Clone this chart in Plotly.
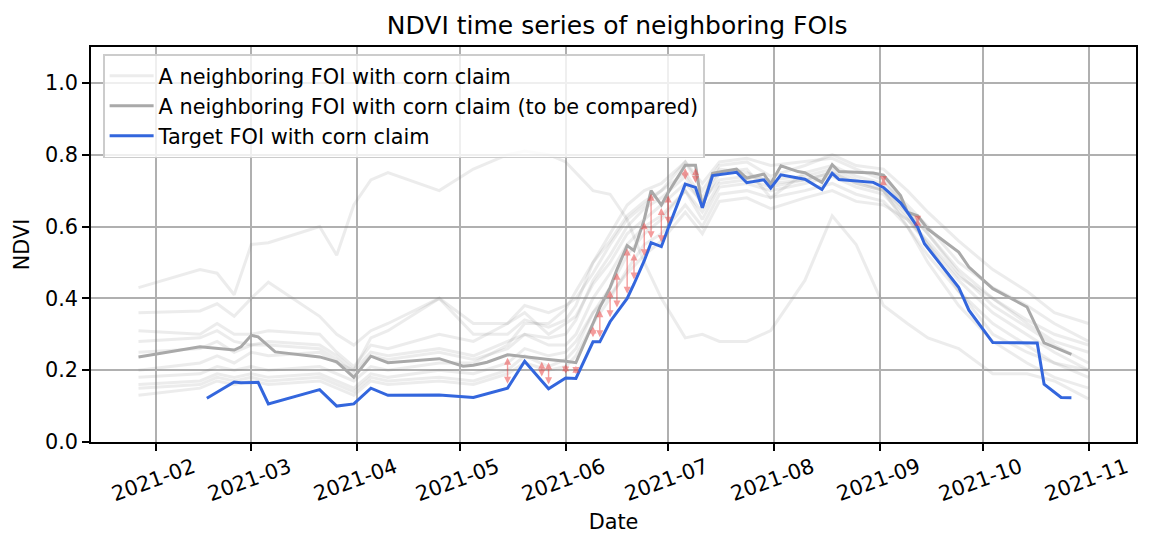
import plotly.graph_objects as go
import pandas as pd

# ---------------- data ----------------
target_dates = ["2021-02-16", "2021-02-24", "2021-02-26", "2021-03-03", "2021-03-06", "2021-03-21",
                "2021-03-26", "2021-03-31", "2021-04-05", "2021-04-10", "2021-04-25", "2021-05-05",
                "2021-05-15", "2021-05-20", "2021-05-25", "2021-05-27", "2021-06-01", "2021-06-04",
                "2021-06-09", "2021-06-11", "2021-06-14", "2021-06-16", "2021-06-19", "2021-06-21",
                "2021-06-24", "2021-06-26", "2021-06-29", "2021-07-01", "2021-07-06", "2021-07-09",
                "2021-07-11", "2021-07-14", "2021-07-16", "2021-07-21", "2021-07-24", "2021-07-29",
                "2021-07-31", "2021-08-03", "2021-08-08", "2021-08-10", "2021-08-15", "2021-08-18",
                "2021-08-20", "2021-08-25", "2021-08-30", "2021-09-02", "2021-09-07", "2021-09-09",
                "2021-09-12", "2021-09-14", "2021-09-24", "2021-09-27", "2021-10-04", "2021-10-17",
                "2021-10-19", "2021-10-24", "2021-10-27"]
target_ndvi = [0.122, 0.167, 0.165, 0.166, 0.106, 0.146,
               0.100, 0.106, 0.150, 0.130, 0.131, 0.124,
               0.150, 0.225, 0.170, 0.148, 0.178, 0.177,
               0.279, 0.279, 0.335, 0.362, 0.400, 0.440,
               0.505, 0.555, 0.544, 0.595, 0.718, 0.709,
               0.652, 0.742, 0.745, 0.751, 0.722, 0.730,
               0.707, 0.744, 0.735, 0.732, 0.703, 0.748,
               0.731, 0.727, 0.723, 0.709, 0.666, 0.640,
               0.598, 0.552, 0.431, 0.367, 0.277, 0.276,
               0.161, 0.124, 0.123]

compare_dates = ["2021-01-27", "2021-02-14", "2021-02-24", "2021-02-26", "2021-03-01", "2021-03-03",
                 "2021-03-08", "2021-03-21", "2021-03-26", "2021-03-31", "2021-04-05", "2021-04-10",
                 "2021-04-25", "2021-05-02", "2021-05-05", "2021-05-09", "2021-05-15", "2021-05-20",
                 "2021-05-25", "2021-05-27", "2021-06-01", "2021-06-04", "2021-06-09", "2021-06-11",
                 "2021-06-14", "2021-06-16", "2021-06-19", "2021-06-21", "2021-06-24", "2021-06-26",
                 "2021-06-29", "2021-07-01", "2021-07-06", "2021-07-09", "2021-07-11", "2021-07-14",
                 "2021-07-16", "2021-07-21", "2021-07-24", "2021-07-29", "2021-07-31", "2021-08-03",
                 "2021-08-08", "2021-08-10", "2021-08-15", "2021-08-18", "2021-08-20", "2021-08-25",
                 "2021-08-30", "2021-09-02", "2021-09-07", "2021-09-09", "2021-09-12", "2021-09-15",
                 "2021-09-24", "2021-09-27", "2021-10-04", "2021-10-14", "2021-10-19", "2021-10-27"]
compare_ndvi = [0.237, 0.265, 0.256, 0.265, 0.297, 0.293,
                0.251, 0.237, 0.223, 0.180, 0.239, 0.221,
                0.232, 0.211, 0.214, 0.222, 0.243, 0.237,
                0.232, 0.230, 0.225, 0.221, 0.330, 0.375,
                0.430, 0.480, 0.547, 0.533, 0.620, 0.700,
                0.660, 0.695, 0.771, 0.771, 0.652, 0.748,
                0.752, 0.760, 0.735, 0.746, 0.719, 0.769,
                0.753, 0.750, 0.723, 0.772, 0.753, 0.751,
                0.749, 0.743, 0.686, 0.640, 0.630, 0.593,
                0.529, 0.487, 0.427, 0.376, 0.276, 0.244]

neighbor_dates = ["2021-01-27", "2021-02-14", "2021-02-19", "2021-02-24", "2021-03-01", "2021-03-06",
                  "2021-03-21", "2021-03-26", "2021-03-31", "2021-04-05", "2021-04-10", "2021-04-25",
                  "2021-05-05", "2021-05-15", "2021-05-20", "2021-05-27", "2021-06-01", "2021-06-04",
                  "2021-06-09", "2021-06-14", "2021-06-19", "2021-06-24", "2021-06-29", "2021-07-06",
                  "2021-07-11", "2021-07-16", "2021-07-24", "2021-07-31", "2021-08-10", "2021-08-18",
                  "2021-08-25", "2021-09-02", "2021-09-09", "2021-09-15", "2021-09-24", "2021-10-04",
                  "2021-10-14", "2021-10-22", "2021-11-01"]
neighbor_1 = [0.43, 0.48, 0.47, 0.41, 0.55, 0.555, 0.60, 0.52, 0.66, 0.73, 0.75, 0.70, 0.76, 0.80, 0.81,
              0.80, 0.78, 0.75, 0.70, 0.69, 0.62, 0.50, 0.40, 0.29, 0.30, 0.28, 0.28, 0.31, 0.45, 0.63,
              0.55, 0.38, 0.33, 0.29, 0.26, 0.19, 0.19, 0.17, 0.12]
neighbor_2 = [0.36, 0.365, 0.385, 0.35, 0.40, 0.445, 0.35, 0.30, 0.27, 0.31, 0.33, 0.40, 0.33, 0.33, 0.38,
              0.36, 0.38, 0.40, 0.47, 0.55, 0.62, 0.66, 0.70, 0.78, 0.70, 0.77, 0.78, 0.74, 0.77, 0.80,
              0.77, 0.76, 0.70, 0.64, 0.56, 0.48, 0.42, 0.36, 0.33]
neighbor_3 = [0.31, 0.30, 0.33, 0.30, 0.30, 0.31, 0.30, 0.25, 0.21, 0.27, 0.26, 0.30, 0.28, 0.33, 0.36,
              0.30, 0.33, 0.35, 0.44, 0.50, 0.58, 0.62, 0.66, 0.72, 0.67, 0.73, 0.74, 0.73, 0.74, 0.76,
              0.73, 0.70, 0.64, 0.58, 0.48, 0.40, 0.33, 0.28, 0.25]
neighbor_4 = [0.28, 0.29, 0.31, 0.28, 0.27, 0.28, 0.27, 0.24, 0.20, 0.25, 0.24, 0.26, 0.24, 0.28, 0.30,
              0.27, 0.27, 0.30, 0.40, 0.47, 0.55, 0.60, 0.63, 0.70, 0.62, 0.71, 0.72, 0.70, 0.72, 0.74,
              0.71, 0.69, 0.62, 0.55, 0.45, 0.36, 0.30, 0.25, 0.20]
neighbor_5 = [0.15, 0.16, 0.18, 0.17, 0.18, 0.17, 0.18, 0.16, 0.14, 0.18, 0.17, 0.18, 0.17, 0.20, 0.24,
              0.21, 0.23, 0.26, 0.36, 0.43, 0.52, 0.58, 0.62, 0.70, 0.64, 0.72, 0.73, 0.71, 0.73, 0.75,
              0.72, 0.70, 0.63, 0.55, 0.42, 0.33, 0.27, 0.22, 0.18]
neighbor_6 = [0.13, 0.15, 0.17, 0.16, 0.17, 0.16, 0.17, 0.15, 0.13, 0.17, 0.16, 0.17, 0.16, 0.19, 0.22,
              0.20, 0.21, 0.24, 0.33, 0.40, 0.48, 0.55, 0.58, 0.66, 0.60, 0.69, 0.70, 0.68, 0.70, 0.72,
              0.69, 0.67, 0.60, 0.50, 0.38, 0.28, 0.22, 0.18, 0.15]
neighbor_7 = [0.25, 0.26, 0.28, 0.25, 0.27, 0.27, 0.26, 0.23, 0.19, 0.24, 0.23, 0.25, 0.23, 0.26, 0.30,
              0.29, 0.30, 0.34, 0.45, 0.52, 0.60, 0.65, 0.68, 0.74, 0.66, 0.75, 0.76, 0.68, 0.75, 0.77,
              0.74, 0.72, 0.66, 0.60, 0.50, 0.43, 0.38, 0.33, 0.28]
neighbor_8 = [0.20, 0.22, 0.24, 0.22, 0.25, 0.24, 0.25, 0.22, 0.20, 0.29, 0.31, 0.40, 0.30, 0.30, 0.34,
              0.32, 0.34, 0.38, 0.50, 0.56, 0.63, 0.67, 0.70, 0.75, 0.68, 0.76, 0.75, 0.72, 0.73, 0.75,
              0.72, 0.70, 0.60, 0.52, 0.42, 0.30, 0.25, 0.22, 0.20]
neighbor_9 = [0.18, 0.19, 0.21, 0.20, 0.21, 0.20, 0.21, 0.19, 0.17, 0.21, 0.20, 0.22, 0.22, 0.27, 0.33,
              0.33, 0.37, 0.42, 0.50, 0.58, 0.66, 0.70, 0.72, 0.78, 0.72, 0.78, 0.79, 0.77, 0.78, 0.79,
              0.76, 0.73, 0.65, 0.58, 0.47, 0.38, 0.32, 0.27, 0.22]
neighbor_10 = [0.16, 0.17, 0.19, 0.18, 0.19, 0.18, 0.19, 0.17, 0.15, 0.19, 0.18, 0.20, 0.19, 0.22, 0.26,
               0.24, 0.25, 0.28, 0.36, 0.41, 0.47, 0.52, 0.56, 0.64, 0.58, 0.67, 0.68, 0.65, 0.68, 0.70,
               0.67, 0.66, 0.62, 0.56, 0.46, 0.40, 0.34, 0.30, 0.27]
neighbors = [neighbor_1, neighbor_2, neighbor_3, neighbor_4, neighbor_5,
             neighbor_6, neighbor_7, neighbor_8, neighbor_9, neighbor_10]

arrow_dates = ["2021-05-15", "2021-05-20", "2021-05-25", "2021-05-27", "2021-06-01", "2021-06-04",
               "2021-06-09", "2021-06-11", "2021-06-14", "2021-06-16", "2021-06-19", "2021-06-21",
               "2021-06-24", "2021-06-26", "2021-06-29", "2021-07-01", "2021-07-06", "2021-07-09",
               "2021-07-11", "2021-07-14", "2021-07-16", "2021-07-21", "2021-07-24", "2021-07-29",
               "2021-07-31", "2021-08-03", "2021-08-08", "2021-08-10", "2021-08-15", "2021-08-18",
               "2021-08-20", "2021-08-25", "2021-08-30", "2021-09-02", "2021-09-07", "2021-09-09",
               "2021-09-12"]

month_ticks = ["2021-02-01", "2021-03-01", "2021-04-01", "2021-05-01", "2021-06-01",
               "2021-07-01", "2021-08-01", "2021-09-01", "2021-10-01", "2021-11-01"]
month_labels = ["2021-02", "2021-03", "2021-04", "2021-05", "2021-06",
                "2021-07", "2021-08", "2021-09", "2021-10", "2021-11"]
y_ticks = [0.0, 0.2, 0.4, 0.6, 0.8, 1.0]

# ---------------- figure ----------------
FONT = "DejaVu Sans"
FS = 20.8
fig = go.Figure()

for i, vals in enumerate(neighbors):
    fig.add_trace(go.Scatter(
        x=neighbor_dates, y=vals, mode="lines",
        line=dict(color="rgba(128,128,128,0.15)", width=3),
        name="A neighboring FOI with corn claim",
        showlegend=(i == 0), hoverinfo="skip"))

fig.add_trace(go.Scatter(
    x=compare_dates, y=compare_ndvi, mode="lines",
    line=dict(color="#a9a9a9", width=3),
    name="A neighboring FOI with corn claim (to be compared)"))

fig.add_trace(go.Scatter(
    x=target_dates, y=target_ndvi, mode="lines",
    line=dict(color="#3366dd", width=3),
    name="Target FOI with corn claim"))

# arrows between target and compared series at matched dates
t_map = dict(zip(target_dates, target_ndvi))
c_map = dict(zip(compare_dates, compare_ndvi))
annotations = []
for d in arrow_dates:
    annotations.append(dict(
        x=d, y=c_map[d], ax=d, ay=t_map[d], xref="x", yref="y", axref="x", ayref="y",
        text="", showarrow=True, arrowhead=2, startarrowhead=2, arrowside="end+start",
        arrowsize=1.0, startarrowsize=1.0, arrowwidth=1.4,
        arrowcolor="rgba(235,60,60,0.5)", standoff=3, startstandoff=3))

# date tick labels (rotated)
for d, lab in zip(month_ticks, month_labels):
    annotations.append(dict(
        x=d, y=0, xref="x", yref="paper", text=lab, showarrow=False,
        textangle=-20, xanchor="center", yanchor="middle", yshift=-38, xshift=-2,
        font=dict(family=FONT, size=FS, color="black")))

# x range with 5% padding, as in the original
all_dates = pd.to_datetime(neighbor_dates + compare_dates + target_dates)
dmin, dmax = all_dates.min(), all_dates.max()
pad = (dmax - dmin) * 0.05
x_range = [dmin - pad, dmax + pad]

axis_common = dict(
    showline=True, linecolor="black", linewidth=1.7, mirror=True,
    ticks="outside", ticklen=7, tickwidth=1.7, tickcolor="black",
    showgrid=True, gridcolor="#b0b0b0", gridwidth=1.7, zeroline=False,
)

# the page body adds an 8 px offset, so the figure is 8 px smaller on each side
W, H = 1144, 541
fig.update_layout(
    width=W, height=H,
    margin=dict(l=83, r=16, t=39, b=107),
    paper_bgcolor="white", plot_bgcolor="white",
    font=dict(family=FONT, size=FS, color="black"),
    title=dict(text="NDVI time series of neighboring FOIs", x=0.5325, xanchor="center",
               y=1 - 17 / H, yanchor="middle", yref="container",
               font=dict(family=FONT, size=25, color="black")),
    xaxis=dict(type="date", range=x_range, tickvals=month_ticks, showticklabels=False,
               title=dict(text="Date", standoff=65, font=dict(size=FS)), **axis_common),
    yaxis=dict(range=[0, 1.1], tickvals=y_ticks, tickformat=".1f",
               title=dict(text="NDVI", standoff=10, font=dict(size=FS)), **axis_common),
    legend=dict(x=0.0115, y=0.982, xanchor="left", yanchor="top",
                bgcolor="rgba(255,255,255,0.8)", bordercolor="#cccccc", borderwidth=1.6,
                font=dict(family=FONT, size=FS), itemwidth=44, traceorder="normal",
                tracegroupgap=0),
    annotations=annotations,
    showlegend=True,
)

fig.write_html("out.html")
